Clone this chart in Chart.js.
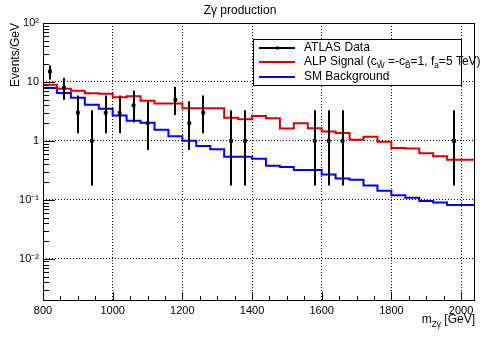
<!DOCTYPE html>
<html>
<head>
<meta charset="utf-8">
<script src="https://cdn.jsdelivr.net/npm/chart.js@4.4.1/dist/chart.umd.min.js"></script>
<style>
  body { margin: 0; background: #fff; }
  canvas { display: block; }
</style>
</head>
<body>
<canvas id="grafica" width="485" height="338"></canvas>
<script>
// bin edges (40 GeV bins, 800 -> 2040)
const binEdges = [800, 840, 880, 920, 960, 1000, 1040, 1080, 1120, 1160, 1200, 1240, 1280, 1320, 1360, 1400,
    1440, 1480, 1520, 1560, 1600, 1640, 1680, 1720, 1760, 1800, 1840, 1880, 1920, 1960, 2000, 2040];

// ALP signal, events/GeV per bin
const signal = [9.8, 9.0, 7.7, 7.1, 6.4, 6.3, 5.5, 5.7, 4.8, 4.3, 4.3, 3.57, 3.57, 3.57, 2.48, 2.32,
    2.65, 2.42, 1.62, 1.99, 1.64, 1.45, 1.36, 1.05, 1.18, 0.97, 0.76, 0.74, 0.62, 0.55, 0.48];

// SM background
const background = [10, 7.9, 6.5, 5.4, 4.1, 3.5, 2.7, 2.2, 2.04, 1.55, 1.2, 1.01, 0.82, 0.72, 0.54, 0.54,
    0.50, 0.38, 0.36, 0.32, 0.32, 0.27, 0.23, 0.22, 0.175, 0.142, 0.12, 0.109, 0.096, 0.09, 0.082];

// ATLAS data points and their error bars
const dataX = [820, 860, 900, 940, 980, 1020, 1060, 1100, 1180, 1220, 1260, 1340, 1380, 1580, 1620, 1660, 1980];
const dataY = [15, 8, 3, 1, 3, 3, 4, 2, 5, 2, 3, 1, 1, 1, 1, 1, 1];
const errLow = [11.0, 5.0, 1.35, 0.175, 1.35, 1.35, 2.05, 0.70, 2.75, 0.70, 1.35, 0.175, 0.175, 0.175, 0.175, 0.175, 0.175];
const errHigh = [19.1, 11.7, 5.9, 3.3, 5.9, 5.9, 7.1, 4.7, 8.3, 4.7, 5.9, 3.3, 3.3, 3.3, 3.3, 3.3, 3.3];

// axis ticks
const xTicks = [800, 1000, 1200, 1400, 1600, 1800, 2000];
const xMinorTicks = [850, 900, 950, 1050, 1100, 1150, 1250, 1300, 1350, 1450, 1500, 1550,
    1650, 1700, 1750, 1850, 1900, 1950];
const yTicks = [0.01, 0.1, 1, 10, 100];
const yTickLabels = ["10⁻²", "10⁻¹", "1", "10", "10²"];

const FONT = "'Liberation Sans', Arial, sans-serif";

function stepPoints(vals) {
    const pts = vals.map((v, i) => ({ x: binEdges[i], y: v }));
    pts.push({ x: binEdges[binEdges.length - 1], y: vals[vals.length - 1] });
    return pts;
}

// texto con subíndices: partes [texto, esSub]
function drawRich(ctx, parts, x, y, size) {
    let cx = x;
    parts.forEach(([t, sub]) => {
        ctx.font = (sub ? size * 0.7 : size) + "px " + FONT;
        ctx.fillText(t, cx, sub ? y + 4 : y);
        cx += ctx.measureText(t).width;
    });
}

const rootStyle = {
    id: "rootStyle",
    afterDatasetsDraw(chart) {
        const ctx = chart.ctx;
        const x = chart.scales.x, y = chart.scales.y;
        const a = chart.chartArea;
        ctx.save();
        // error bars
        ctx.strokeStyle = "#000";
        ctx.lineWidth = 2;
        dataX.forEach((v, i) => {
            const px = Math.round(x.getPixelForValue(v));
            ctx.beginPath();
            ctx.moveTo(px, y.getPixelForValue(errLow[i]));
            ctx.lineTo(px, y.getPixelForValue(errHigh[i]));
            ctx.stroke();
        });
        // frame
        ctx.lineWidth = 1;
        ctx.strokeRect(a.left + 0.5, a.top + 0.5, a.right - a.left - 1, a.bottom - a.top);
        // x ticks, pointing inward
        ctx.beginPath();
        xTicks.forEach(v => {
            const px = Math.round(x.getPixelForValue(v)) + 0.5;
            ctx.moveTo(px, a.bottom); ctx.lineTo(px, a.bottom - 8);
        });
        xMinorTicks.forEach(v => {
            const px = Math.round(x.getPixelForValue(v)) + 0.5;
            ctx.moveTo(px, a.bottom); ctx.lineTo(px, a.bottom - 4);
        });
        // y ticks (log, major + minor)
        for (let e = -3; e <= 1; e++) {
            for (let m = 1; m <= 9; m++) {
                const v = m * Math.pow(10, e);
                if (v < 0.002 || v > 100) continue;
                const py = Math.round(y.getPixelForValue(v)) + 0.5;
                ctx.moveTo(a.left, py); ctx.lineTo(a.left + (m === 1 ? 12 : 6), py);
            }
        }
        const pTop = Math.round(y.getPixelForValue(100)) + 0.5;
        ctx.moveTo(a.left, pTop); ctx.lineTo(a.left + 12, pTop);
        ctx.stroke();
        ctx.restore();
    },
    afterDraw(chart) {
        const ctx = chart.ctx;
        const a = chart.chartArea;
        ctx.save();
        ctx.fillStyle = "#000";
        // title
        ctx.font = "12px " + FONT;
        ctx.textAlign = "center";
        ctx.textBaseline = "middle";
        ctx.fillText("Zγ production", 240, 11);
        // y title
        ctx.save();
        ctx.translate(16, a.top);
        ctx.rotate(-Math.PI / 2);
        ctx.textAlign = "right";
        ctx.font = "12px " + FONT;
        ctx.fillText("Events/GeV", 0, 0);
        ctx.restore();
        // x title
        ctx.textAlign = "left";
        ctx.textBaseline = "alphabetic";
        ctx.font = "12px " + FONT;
        const tail = " [GeV]";
        const wTail = ctx.measureText(tail).width;
        ctx.font = "8.4px " + FONT;
        const wSub = ctx.measureText("Zγ").width;
        ctx.font = "12px " + FONT;
        const wM = ctx.measureText("m").width;
        drawRich(ctx, [["m", false], ["Zγ", true], [tail, false]], a.right - wTail - wSub - wM, 323, 12);

        // legend
        const lx = 253, ly = 39, lw = 208, lh = 46;
        ctx.fillStyle = "#fff";
        ctx.fillRect(lx, ly, lw, lh);
        ctx.strokeStyle = "#000";
        ctx.lineWidth = 1;
        ctx.strokeRect(lx + 0.5, ly + 0.5, lw, lh);
        const rows = [
            { c: "#000", y: 48, parts: [["ATLAS Data", false]], mark: true },
            { c: "#e00000", y: 62, parts: [["ALP Signal (c", false], ["W̃", true], [" =-c", false], ["B̃", true],
                ["=1, f", false], ["a", true], ["=5 TeV)", false]] },
            { c: "#0000ff", y: 77, parts: [["SM Background", false]] }
        ];
        rows.forEach(r => {
            ctx.strokeStyle = r.c;
            ctx.lineWidth = 2;
            ctx.beginPath();
            ctx.moveTo(259, r.y); ctx.lineTo(295, r.y);
            ctx.stroke();
            if (r.mark) {
                ctx.fillStyle = "#000";
                ctx.fillRect(276, r.y - 1.5, 3, 3);
            }
            ctx.fillStyle = "#000";
            ctx.textBaseline = "middle";
            drawRich(ctx, r.parts, 304, r.y, 12);
        });
        ctx.restore();
    }
};

new Chart(document.getElementById("grafica").getContext("2d"), {
    type: "scatter",
    data: {
        datasets: [
            {
                label: "ATLAS Data",
                data: dataX.map((v, i) => ({ x: v, y: dataY[i] })),
                backgroundColor: "#000",
                borderColor: "#000",
                pointStyle: "rect",
                pointRadius: 2,
                showLine: false,
            },
            {
                label: "ALP Signal",
                data: stepPoints(signal),
                borderColor: "#e00000",
                borderWidth: 2,
                showLine: true,
                stepped: "after",
                pointRadius: 0,
            },
            {
                label: "SM Background",
                data: stepPoints(background),
                borderColor: "#0000ff",
                borderWidth: 2,
                showLine: true,
                stepped: "after",
                pointRadius: 0,
            },
        ],
    },
    options: {
        responsive: false,
        animation: false,
        layout: { padding: { top: 23, right: 10, left: 0, bottom: 0 } },
        plugins: {
            legend: { display: false },
            tooltip: { enabled: false },
        },
        scales: {
            x: {
                type: "linear",
                min: 800,
                max: 2040,
                afterBuildTicks: s => { s.ticks = xTicks.map(v => ({ value: v })); },
                afterFit: s => { s.height = 38; },
                ticks: {
                    color: "#000",
                    font: { family: FONT, size: 11 },
                    padding: 4,
                    maxRotation: 0,
                    callback: v => String(v),
                },
                grid: {
                    drawTicks: false,
                    color: c => (c.tick && (c.tick.value === 800 || c.tick.value === 2040)) ? "rgba(0,0,0,0)" : "#000",
                    lineWidth: 1,
                },
                border: { display: false, dash: [1, 2] },
            },
            y: {
                type: "logarithmic",
                min: 0.002,
                max: 100,
                afterBuildTicks: s => { s.ticks = yTicks.map(v => ({ value: v })); },
                afterFit: s => { s.width = 43; },
                ticks: {
                    color: "#000",
                    font: { family: FONT, size: 11 },
                    padding: 4,
                    callback: v => {
                        const i = yTicks.findIndex(t => Math.abs(t - v) / t < 1e-6);
                        return i >= 0 ? yTickLabels[i] : "";
                    },
                },
                grid: {
                    drawTicks: false,
                    color: c => (c.tick && c.tick.value === 100) ? "rgba(0,0,0,0)" : "#000",
                    lineWidth: 1,
                },
                border: { display: false, dash: [1, 2] },
            },
        },
    },
    plugins: [rootStyle],
});
</script>
</body>
</html>
